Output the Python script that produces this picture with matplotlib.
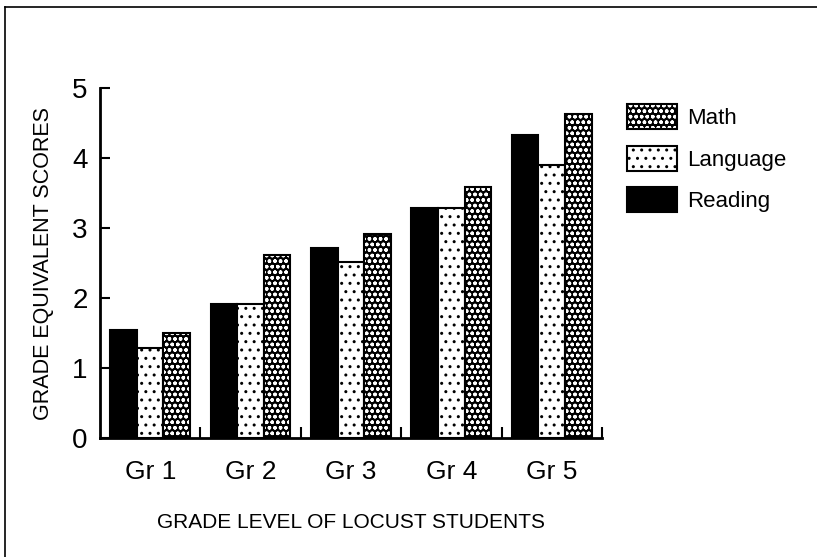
import numpy as np
import matplotlib
matplotlib.use("Agg")
import matplotlib.pyplot as plt
from matplotlib.patches import Patch
from matplotlib.lines import Line2D
from matplotlib.legend_handler import HandlerTuple

plt.rcParams['font.family'] = ['Liberation Sans', 'DejaVu Sans']
plt.rcParams['hatch.linewidth'] = 1.0

grades = ['Gr 1', 'Gr 2', 'Gr 3', 'Gr 4', 'Gr 5']
reading = [1.54, 1.92, 2.72, 3.29, 4.33]
language = [1.28, 1.91, 2.52, 3.28, 3.90]
math = [1.50, 2.61, 2.91, 3.59, 4.63]

fig = plt.figure(figsize=(8.17, 5.57), dpi=100)
ax = fig.add_axes([0.1224, 0.2136, 0.6144, 0.6284])

x = np.arange(len(grades))
w = 0.265
# reading: solid black
ax.bar(x - w, reading, w, color='black', edgecolor='black', linewidth=1.5)
# language: white with dots
ax.bar(x, language, w, color='white', edgecolor='black', hatch='..', linewidth=0)
ax.bar(x, language, w, fill=False, edgecolor='black', linewidth=1.5)
# math: black with white rings
ax.bar(x + w, math, w, color='black', edgecolor='white', hatch='ooo', linewidth=0)
ax.bar(x + w, math, w, fill=False, edgecolor='black', linewidth=1.5)

ax.set_xlim(-0.5, 4.5)
ax.set_ylim(0, 5)
ax.spines['top'].set_visible(False)
ax.spines['right'].set_visible(False)
ax.spines['left'].set_linewidth(2)
ax.spines['bottom'].set_linewidth(2)

ax.set_xticks(x)
ax.set_xticklabels(grades, fontsize=19)
ax.set_xticks(np.arange(0.5, 5, 1), minor=True)
ax.tick_params(axis='x', which='major', length=0, pad=16)
ax.tick_params(axis='x', which='minor', direction='in', length=8, width=1.5)
ax.set_yticks([0, 1, 2, 3, 4, 5])
ax.tick_params(axis='y', direction='in', length=7, width=1.5, labelsize=20, pad=9)

ax.set_xlabel('GRADE LEVEL OF LOCUST STUDENTS', fontsize=15, labelpad=21)
ax.set_ylabel('GRADE EQUIVALENT SCORES', fontsize=15.5, labelpad=13)

h_math = (Patch(facecolor='black', edgecolor='white', hatch='ooo', linewidth=0),
          Patch(fill=False, edgecolor='black', linewidth=1.5))
h_lang = (Patch(facecolor='white', edgecolor='black', hatch='..', linewidth=0),
          Patch(fill=False, edgecolor='black', linewidth=1.5))
h_read = Patch(facecolor='black', edgecolor='black', linewidth=1.5)
fig.legend([h_math, h_lang, h_read], ['Math', 'Language', 'Reading'],
           handler_map={tuple: HandlerTuple(ndivide=1)},
           loc='upper left', bbox_to_anchor=(0.767, 0.813), frameon=False,
           fontsize=16, handlelength=2.25, handleheight=1.35, handletextpad=0.45,
           labelspacing=0.75, borderpad=0, borderaxespad=0)

# frame lines at left and top of the picture
fig.add_artist(Line2D([0.006, 0.006], [0, 0.987], color='black', linewidth=1.2))
fig.add_artist(Line2D([0.006, 1.0], [0.987, 0.987], color='black', linewidth=1.2))

fig.savefig('out.png', dpi=100)
